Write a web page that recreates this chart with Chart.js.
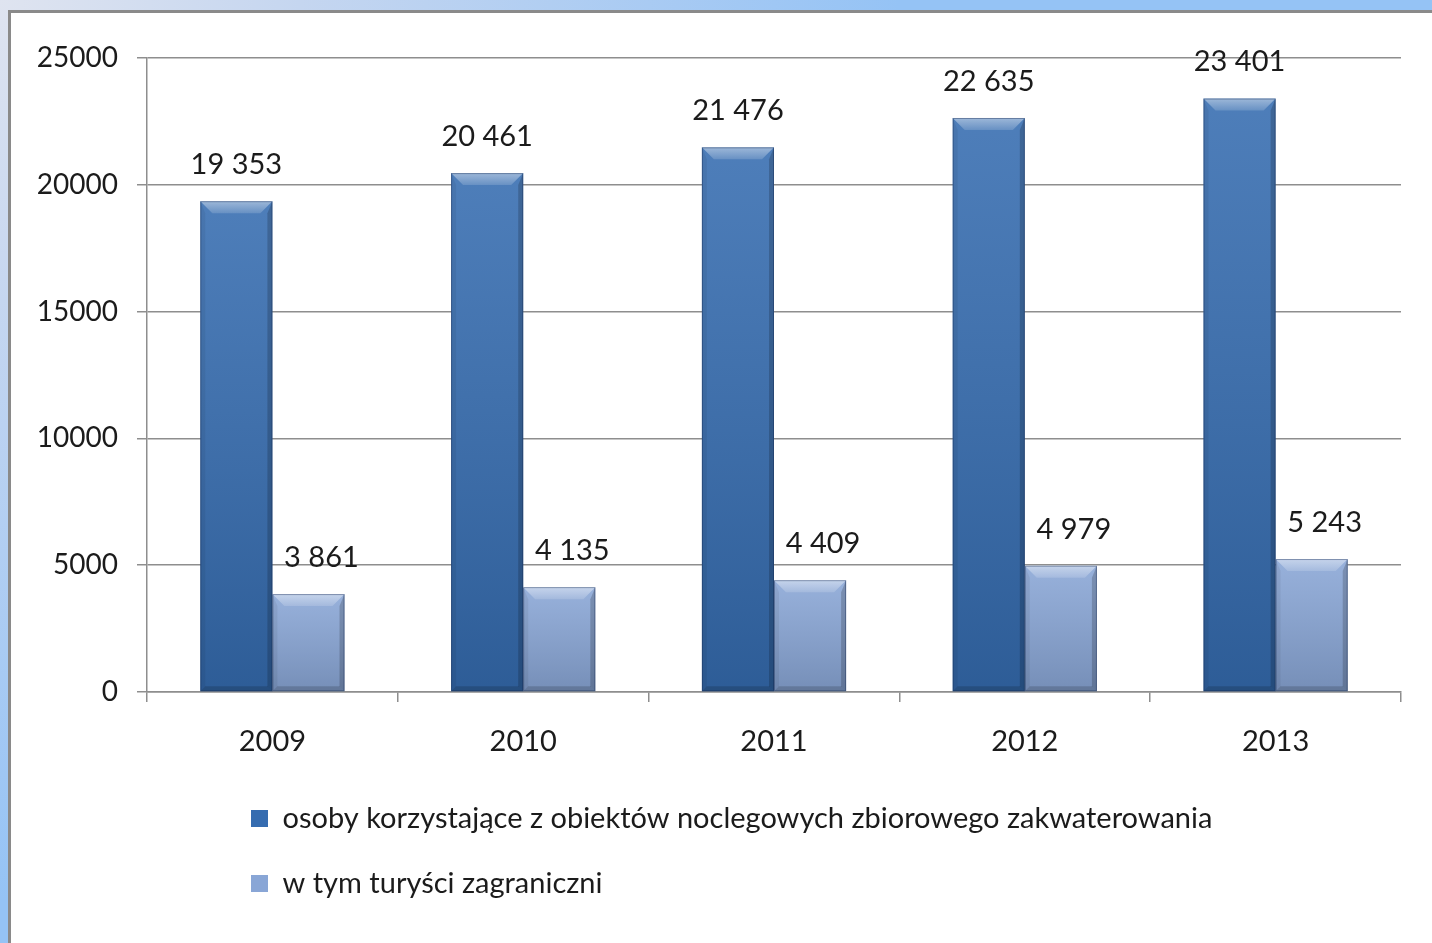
<!DOCTYPE html>
<html>
<head>
    <title>Turystyka 2009-2013</title>
    <style>
        html, body {
            margin: 0;
            padding: 0;
            width: 1432px;
            height: 943px;
            overflow: hidden;
        }

        body {
            background: radial-gradient(circle at 0 0, #dfe4f0 0px, #c5d6f0 300px, #95c3f5 900px);
        }

        #panel {
            position: absolute;
            left: 8px;
            top: 10px;
            width: 1500px;
            height: 1000px;
            background: #ffffff;
            border-left: 3px solid #8a8a8a;
            border-top: 3px solid #8a8a8a;
        }

        #chartBox {
            position: absolute;
            left: 0;
            top: 0;
            width: 1432px;
            height: 943px;
        }
    </style>
    <script src="https://cdn.jsdelivr.net/npm/chart.js@4.4.0/dist/chart.umd.min.js"></script>
</head>
<body>
    <div id="panel"></div>
    <div id="chartBox">
        <canvas id="chartCanvas"></canvas>
    </div>

    <script>
        const years = ['2009', '2010', '2011', '2012', '2013'];
        const osoby = [19353, 20461, 21476, 22635, 23401];
        const zagraniczni = [3861, 4135, 4409, 4979, 5243];
        const seriesNames = [
            'osoby korzystające z obiektów noclegowych zbiorowego zakwaterowania',
            'w tym turyści zagraniczni'
        ];

        const FONT = 'Lato, "Open Sans", sans-serif';
        const TEXT = '#1b1b1b';
        const GRID = '#8e8e8e';

        // liczby z odstępem co trzy cyfry, np. 19 353
        function fmt(v) {
            return String(v).replace(/\B(?=(\d{3})+(?!\d))/g, ' ');
        }

        // efekt "skosu" na słupkach
        const bevelPlugin = {
            id: 'bevel',
            afterDatasetsDraw(chart) {
                const ctx = chart.ctx;
                chart.data.datasets.forEach((ds, di) => {
                    chart.getDatasetMeta(di).data.forEach(bar => {
                        const l = bar.x - bar.width / 2;
                        const r = bar.x + bar.width / 2;
                        const t = bar.y;
                        const b = bar.base;
                        const tb = Math.min(12, (b - t) / 3);
                        const sb = 5;
                        ctx.save();

                        const g = ctx.createLinearGradient(0, t, 0, b);
                        g.addColorStop(0, 'rgba(255,255,255,0.12)');
                        g.addColorStop(1, 'rgba(0,0,0,0.14)');
                        ctx.fillStyle = g;
                        ctx.fillRect(l, t, r - l, b - t);

                        // gora
                        const gt = ctx.createLinearGradient(0, t, 0, t + tb);
                        gt.addColorStop(0, 'rgba(255,255,255,0.45)');
                        gt.addColorStop(1, 'rgba(255,255,255,0.15)');
                        ctx.fillStyle = gt;
                        ctx.beginPath();
                        ctx.moveTo(l, t);
                        ctx.lineTo(r, t);
                        ctx.lineTo(r - tb, t + tb);
                        ctx.lineTo(l + tb, t + tb);
                        ctx.closePath();
                        ctx.fill();

                        // lewa krawedz
                        ctx.fillStyle = 'rgba(0,0,0,0.06)';
                        ctx.beginPath();
                        ctx.moveTo(l, t);
                        ctx.lineTo(l + sb, t + tb);
                        ctx.lineTo(l + sb, b - sb);
                        ctx.lineTo(l, b);
                        ctx.closePath();
                        ctx.fill();

                        // prawa krawedz
                        ctx.fillStyle = 'rgba(0,0,0,0.18)';
                        ctx.beginPath();
                        ctx.moveTo(r, t);
                        ctx.lineTo(r - sb, t + tb);
                        ctx.lineTo(r - sb, b - sb);
                        ctx.lineTo(r, b);
                        ctx.closePath();
                        ctx.fill();

                        // dol
                        ctx.fillStyle = 'rgba(0,0,0,0.16)';
                        ctx.beginPath();
                        ctx.moveTo(l, b);
                        ctx.lineTo(l + sb, b - sb);
                        ctx.lineTo(r - sb, b - sb);
                        ctx.lineTo(r, b);
                        ctx.closePath();
                        ctx.fill();

                        ctx.strokeStyle = 'rgba(20,40,80,0.4)';
                        ctx.lineWidth = 1;
                        ctx.strokeRect(l + 0.5, t + 0.5, r - l - 1, b - t - 1);
                        ctx.restore();
                    });
                });
            }
        };

        // etykiety wartosci nad slupkami
        const valueLabels = {
            id: 'valueLabels',
            afterDatasetsDraw(chart) {
                const ctx = chart.ctx;
                ctx.save();
                ctx.font = '29px ' + FONT;
                ctx.fillStyle = TEXT;
                ctx.textAlign = 'center';
                ctx.textBaseline = 'bottom';
                chart.data.datasets.forEach((ds, di) => {
                    const dx = di === 1 ? 13 : 0;
                    chart.getDatasetMeta(di).data.forEach((bar, i) => {
                        ctx.fillText(fmt(ds.data[i]), bar.x + dx, bar.y - 22);
                    });
                });
                ctx.restore();
            }
        };

        // przesuniecie legendy w prawo, jak w oryginale
        const legendShift = {
            id: 'legendShift',
            afterLayout(chart) {
                if (chart.legend) {
                    chart.legend.left += 68;
                    chart.legend.right += 68;
                }
            }
        };

        const ctx = document.getElementById('chartCanvas').getContext('2d');

        const chart = new Chart(ctx, {
            type: 'bar',
            data: {
                labels: years,
                datasets: [{
                    label: seriesNames[0],
                    data: osoby,
                    backgroundColor: '#356cb0',
                    borderColor: '#244d85',
                    borderWidth: 0
                }, {
                    label: seriesNames[1],
                    data: zagraniczni,
                    backgroundColor: '#89a6d6',
                    borderColor: '#5d769f',
                    borderWidth: 0
                }]
            },
            options: {
                responsive: true,
                maintainAspectRatio: false,
                animation: false,
                layout: {
                    padding: { top: 58, right: 31, bottom: 35, left: 0 }
                },
                datasets: {
                    bar: {
                        categoryPercentage: 0.575,
                        barPercentage: 1.0
                    }
                },
                scales: {
                    x: {
                        grid: {
                            display: true,
                            offset: true,
                            drawOnChartArea: false,
                            drawTicks: true,
                            tickLength: 10,
                            color: GRID,
                            lineWidth: 1.5
                        },
                        border: { color: GRID, width: 1.5 },
                        ticks: {
                            color: TEXT,
                            font: { family: FONT, size: 29 },
                            padding: 22
                        },
                        afterFit(scale) {
                            scale.height = 76;
                        }
                    },
                    y: {
                        min: 0,
                        max: 25000,
                        grid: {
                            color: GRID,
                            lineWidth: 1.5,
                            drawTicks: true,
                            tickLength: 10
                        },
                        border: { color: GRID, width: 1.5 },
                        ticks: {
                            stepSize: 5000,
                            color: TEXT,
                            font: { family: FONT, size: 28 },
                            padding: 19,
                            callback: v => String(v)
                        },
                        afterFit(scale) {
                            scale.width = 147;
                        }
                    }
                },
                plugins: {
                    legend: {
                        display: true,
                        position: 'bottom',
                        align: 'start',
                        fullSize: false,
                        labels: {
                            boxWidth: 17,
                            boxHeight: 17,
                            padding: 36,
                            color: TEXT,
                            font: { family: FONT, size: 29 }
                        }
                    },
                    tooltip: { enabled: false }
                }
            },
            plugins: [bevelPlugin, valueLabels, legendShift]
        });
    </script>
</body>
</html>
